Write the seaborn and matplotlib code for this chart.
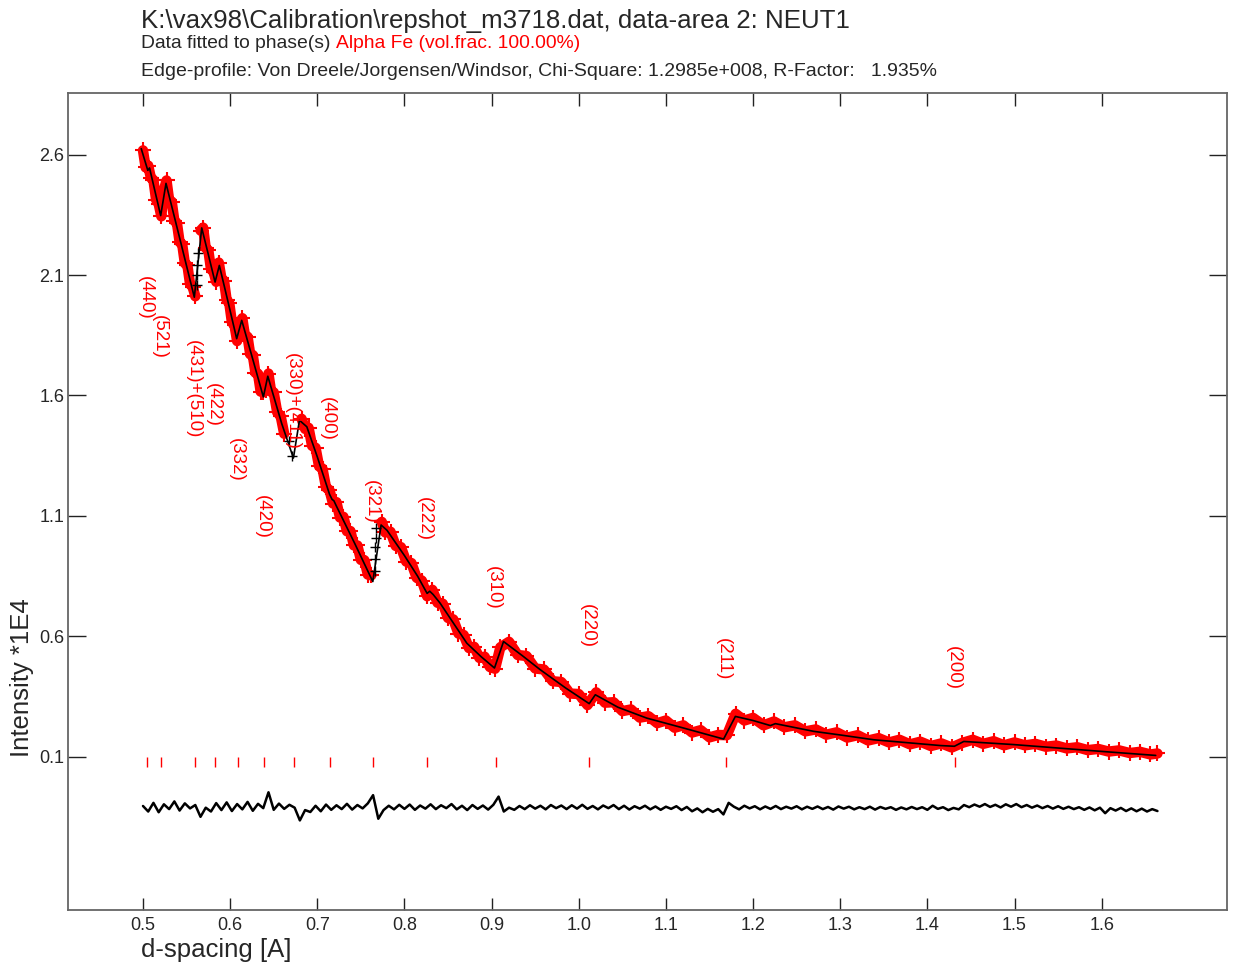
import numpy as np
import matplotlib
matplotlib.use("Agg")
import matplotlib.pyplot as plt
import seaborn as sns

# fitted edge profile (black line)
fit_x = [0.498, 0.5055, 0.5075, 0.5203, 0.5264, 0.542, 0.5589, 0.5674, 0.575, 0.5827,
         0.5876, 0.5975, 0.6075, 0.6133, 0.626, 0.6381, 0.6432, 0.6592, 0.6726, 0.6795,
         0.688, 0.700, 0.714, 0.717, 0.719, 0.722, 0.743, 0.7637, 0.7732, 0.780,
         0.800, 0.815, 0.826, 0.829, 0.833, 0.841, 0.8716, 0.888, 0.9033, 0.9137,
         0.935, 0.9558, 0.985, 1.012, 1.019, 1.045, 1.078, 1.120, 1.1662, 1.1797,
         1.200, 1.2199, 1.2256, 1.2696, 1.300, 1.3385, 1.415, 1.431, 1.4418, 1.4992,
         1.5988, 1.662]
fit_y = [2.625, 2.535, 2.545, 2.347, 2.481, 2.255, 2.008, 2.296, 2.185, 2.071,
         2.140, 1.990, 1.836, 1.912, 1.750, 1.594, 1.680, 1.483, 1.340, 1.497,
         1.470, 1.345, 1.190, 1.168, 1.163, 1.140, 0.985, 0.827, 1.062, 1.040,
         0.935, 0.850, 0.778, 0.787, 0.773, 0.737, 0.571, 0.515, 0.468, 0.578,
         0.520, 0.461, 0.385, 0.320, 0.357, 0.305, 0.260, 0.219, 0.173, 0.267,
         0.250, 0.229, 0.237, 0.205, 0.190, 0.170, 0.146, 0.143, 0.163, 0.150,
         0.122, 0.105]

# observed transmission (red +)
obs_x = [0.500, 0.503, 0.506, 0.509, 0.512, 0.515, 0.518, 0.521, 0.524, 0.527,
         0.530, 0.533, 0.536, 0.539, 0.542, 0.545, 0.548, 0.551, 0.554, 0.557,
         0.560, 0.566, 0.569, 0.572, 0.575, 0.578, 0.581, 0.584, 0.587, 0.590,
         0.593, 0.596, 0.599, 0.602, 0.605, 0.608, 0.611, 0.614, 0.617, 0.620,
         0.623, 0.626, 0.629, 0.632, 0.635, 0.638, 0.641, 0.644, 0.647, 0.650,
         0.654, 0.658, 0.662, 0.682, 0.686, 0.690, 0.694, 0.698, 0.702, 0.706,
         0.710, 0.714, 0.718, 0.722, 0.726, 0.730, 0.734, 0.738, 0.742, 0.746,
         0.750, 0.754, 0.758, 0.762, 0.774, 0.778, 0.784, 0.790, 0.796, 0.802,
         0.808, 0.814, 0.820, 0.826, 0.832, 0.838, 0.844, 0.850, 0.856, 0.862,
         0.868, 0.874, 0.880, 0.886, 0.892, 0.898, 0.904, 0.910, 0.920, 0.930,
         0.940, 0.950, 0.960, 0.970, 0.980, 0.990, 1.000, 1.010, 1.020, 1.030,
         1.040, 1.050, 1.060, 1.070, 1.080, 1.090, 1.100, 1.110, 1.120, 1.130,
         1.140, 1.150, 1.160, 1.170, 1.180, 1.190, 1.200, 1.212, 1.224, 1.236,
         1.248, 1.260, 1.272, 1.284, 1.296, 1.308, 1.320, 1.332, 1.344, 1.356,
         1.368, 1.380, 1.392, 1.404, 1.416, 1.428, 1.440, 1.452, 1.464, 1.476,
         1.488, 1.500, 1.512, 1.524, 1.536, 1.548, 1.560, 1.572, 1.584, 1.596,
         1.608, 1.620, 1.632, 1.644, 1.656, 1.664]
obs_y = [2.618, 2.547, 2.555, 2.504, 2.495, 2.413, 2.396, 2.344, 2.454, 2.493,
         2.411, 2.405, 2.325, 2.315, 2.237, 2.228, 2.149, 2.140, 2.062, 2.051,
         2.012, 2.285, 2.297, 2.212, 2.203, 2.124, 2.114, 2.072, 2.152, 2.086,
         2.076, 1.996, 1.984, 1.904, 1.891, 1.826, 1.902, 1.921, 1.847, 1.844,
         1.771, 1.768, 1.694, 1.690, 1.616, 1.613, 1.624, 1.691, 1.615, 1.613,
         1.530, 1.514, 1.441, 1.503, 1.461, 1.466, 1.391, 1.383, 1.306, 1.296,
         1.218, 1.207, 1.151, 1.157, 1.093, 1.096, 1.036, 1.037, 0.977, 0.977,
         0.917, 0.916, 0.856, 0.853, 1.075, 1.031, 1.034, 0.975, 0.970, 0.910,
         0.904, 0.843, 0.831, 0.766, 0.793, 0.739, 0.735, 0.676, 0.670, 0.611,
         0.605, 0.551, 0.556, 0.510, 0.515, 0.472, 0.465, 0.554, 0.577, 0.522,
         0.518, 0.466, 0.462, 0.413, 0.410, 0.362, 0.360, 0.314, 0.367, 0.324,
         0.326, 0.289, 0.296, 0.262, 0.268, 0.239, 0.250, 0.220, 0.230, 0.200,
         0.210, 0.180, 0.190, 0.189, 0.278, 0.250, 0.261, 0.230, 0.246, 0.222,
         0.230, 0.205, 0.213, 0.191, 0.201, 0.179, 0.189, 0.167, 0.177, 0.159,
         0.170, 0.151, 0.162, 0.144, 0.155, 0.138, 0.157, 0.170, 0.153, 0.164,
         0.147, 0.159, 0.147, 0.153, 0.141, 0.146, 0.134, 0.139, 0.127, 0.132,
         0.121, 0.126, 0.115, 0.120, 0.109, 0.113]

# points on the steep edges drawn as black +
excl_x = [0.5615, 0.5625, 0.5625, 0.563, 0.668, 0.6715, 0.766, 0.766, 0.7665, 0.767, 0.7675]
excl_y = [2.06, 2.10, 2.14, 2.19, 1.41, 1.35, 0.87, 0.92, 0.97, 1.01, 1.05]

# difference curve
resid_x = [0.500, 0.506, 0.512, 0.518, 0.524, 0.530, 0.536, 0.542, 0.548, 0.554,
           0.560, 0.566, 0.572, 0.578, 0.584, 0.590, 0.596, 0.602, 0.608, 0.614,
           0.620, 0.626, 0.632, 0.638, 0.644, 0.650, 0.656, 0.662, 0.668, 0.674,
           0.680, 0.686, 0.692, 0.698, 0.704, 0.710, 0.716, 0.722, 0.728, 0.734,
           0.740, 0.746, 0.752, 0.758, 0.764, 0.770, 0.776, 0.782, 0.788, 0.794,
           0.800, 0.806, 0.812, 0.818, 0.824, 0.830, 0.836, 0.842, 0.848, 0.854,
           0.860, 0.866, 0.872, 0.878, 0.884, 0.890, 0.896, 0.902, 0.908, 0.914,
           0.920, 0.926, 0.932, 0.938, 0.944, 0.950, 0.956, 0.962, 0.968, 0.974,
           0.980, 0.986, 0.992, 0.998, 1.004, 1.010, 1.016, 1.022, 1.028, 1.034,
           1.040, 1.046, 1.052, 1.058, 1.064, 1.070, 1.076, 1.082, 1.088, 1.094,
           1.100, 1.106, 1.112, 1.118, 1.124, 1.130, 1.136, 1.142, 1.148, 1.154,
           1.160, 1.166, 1.172, 1.178, 1.184, 1.190, 1.196, 1.202, 1.208, 1.214,
           1.220, 1.226, 1.232, 1.238, 1.244, 1.250, 1.256, 1.262, 1.268, 1.274,
           1.280, 1.286, 1.292, 1.298, 1.304, 1.310, 1.316, 1.322, 1.328, 1.334,
           1.340, 1.346, 1.352, 1.358, 1.364, 1.370, 1.376, 1.382, 1.388, 1.394,
           1.400, 1.406, 1.412, 1.418, 1.424, 1.430, 1.436, 1.442, 1.448, 1.454,
           1.460, 1.466, 1.472, 1.478, 1.484, 1.490, 1.496, 1.502, 1.508, 1.514,
           1.520, 1.526, 1.532, 1.538, 1.544, 1.550, 1.556, 1.562, 1.568, 1.574,
           1.580, 1.586, 1.592, 1.598, 1.604, 1.610, 1.616, 1.622, 1.628, 1.634,
           1.640, 1.646, 1.652, 1.658, 1.664]
resid_y = [-0.105, -0.128, -0.092, -0.131, -0.098, -0.118, -0.086, -0.124, -0.094, -0.115,
           -0.101, -0.150, -0.112, -0.128, -0.093, -0.122, -0.090, -0.126, -0.097, -0.119,
           -0.088, -0.125, -0.096, -0.114, -0.048, -0.121, -0.095, -0.117, -0.100, -0.112,
           -0.165, -0.122, -0.130, -0.104, -0.127, -0.099, -0.121, -0.102, -0.118, -0.096,
           -0.120, -0.101, -0.115, -0.094, -0.060, -0.158, -0.122, -0.104, -0.119, -0.100,
           -0.117, -0.099, -0.121, -0.103, -0.116, -0.098, -0.118, -0.102, -0.114, -0.097,
           -0.119, -0.104, -0.122, -0.101, -0.117, -0.103, -0.120, -0.100, -0.066, -0.128,
           -0.112, -0.121, -0.105, -0.118, -0.102, -0.116, -0.104, -0.119, -0.101, -0.114,
           -0.103, -0.118, -0.102, -0.116, -0.100, -0.117, -0.105, -0.119, -0.103, -0.114,
           -0.101, -0.118, -0.104, -0.120, -0.106, -0.116, -0.104, -0.119, -0.107, -0.121,
           -0.108, -0.117, -0.106, -0.122, -0.109, -0.127, -0.115, -0.131, -0.117, -0.129,
           -0.118, -0.140, -0.092, -0.108, -0.119, -0.104, -0.115, -0.106, -0.119, -0.107,
           -0.117, -0.105, -0.118, -0.108, -0.116, -0.106, -0.119, -0.108, -0.117, -0.107,
           -0.118, -0.109, -0.120, -0.107, -0.116, -0.108, -0.119, -0.110, -0.118, -0.108,
           -0.120, -0.109, -0.117, -0.110, -0.121, -0.111, -0.119, -0.109, -0.118, -0.110,
           -0.121, -0.104, -0.117, -0.110, -0.122, -0.113, -0.119, -0.101, -0.110, -0.099,
           -0.108, -0.097, -0.109, -0.100, -0.111, -0.098, -0.108, -0.097, -0.110, -0.101,
           -0.112, -0.103, -0.114, -0.105, -0.116, -0.106, -0.117, -0.108, -0.118, -0.110,
           -0.121, -0.111, -0.123, -0.112, -0.135, -0.114, -0.124, -0.113, -0.126, -0.115,
           -0.127, -0.116, -0.128, -0.118, -0.126]

# reflection markers and labels
hkl_d = [0.5042, 0.5207, 0.5597, 0.5830, 0.6088, 0.6386, 0.6733, 0.7147, 0.7637,
         0.8257, 0.9049, 1.0120, 1.1689, 1.4314]
hkl_labels = ["(440)", "(521)", "(431)+(510)", "(422)", "(332)", "(420)", "(330)+(411)",
              "(400)", "(321)", "(222)", "(310)", "(220)", "(211)", "(200)"]
label_x = [0.5023, 0.5184, 0.5574, 0.5803, 0.6068, 0.6366, 0.6711, 0.7113, 0.7618,
           0.8226, 0.9018, 1.0098, 1.1659, 1.4299]
label_y = [2.098, 1.933, 1.829, 1.651, 1.423, 1.186, 1.775, 1.592, 1.248, 1.178,
           0.892, 0.734, 0.593, 0.560]

x_ticks = [0.5, 0.6, 0.7, 0.8, 0.9, 1.0, 1.1, 1.2, 1.3, 1.4, 1.5, 1.6]
y_ticks = [0.1, 0.6, 1.1, 1.6, 2.1, 2.6]

sns.set_style("white")
plt.rcParams['font.family'] = ['Liberation Sans', 'DejaVu Sans']

fig = plt.figure(figsize=(12.34, 9.74), dpi=100)
ax = fig.add_axes([68.3 / 1234, 64 / 974, (1227 - 68.3) / 1234, (910 - 93.3) / 974])

# dense cloud of observations: a red core under the individual crosses,
# broken where the data jump across a large edge or have a gap
ox = np.array(obs_x)
oy = np.array(obs_y)
breaks = np.where((np.diff(oy) > 0.15) | (np.diff(ox) > 0.013))[0] + 1
for sx, sy in zip(np.split(ox, breaks), np.split(oy, breaks)):
    ax.plot(sx, sy, color='#ff0000', linewidth=7.5, solid_joinstyle='round',
            solid_capstyle='round', zorder=1)
ax.plot(obs_x, obs_y, linestyle='none', marker='+', markersize=11.5,
        markeredgewidth=1.5, color='#ff0000', markeredgecolor='#ff0000', zorder=2)
ax.plot(excl_x, excl_y, linestyle='none', marker='+', markersize=7.5,
        markeredgewidth=1.0, color='black', markeredgecolor='black', zorder=3)
sns.lineplot(x=fit_x, y=fit_y, color='black', linewidth=1.2, sort=False,
             estimator=None, ax=ax, zorder=4)
sns.lineplot(x=resid_x, y=resid_y, color='black', linewidth=1.8, sort=False,
             estimator=None, ax=ax, zorder=4)

ax.vlines(hkl_d, 0.058, 0.1, color='#ff0000', linewidth=1.0, zorder=3)
for lx, ly, txt in zip(label_x, label_y, hkl_labels):
    ax.text(lx, ly, txt, rotation=-90, ha='center', va='top', color='#ff0000',
            fontsize=13.5, zorder=5)

ax.set_xlim(0.4143, 1.7438)
ax.set_ylim(-0.537, 2.855)
ax.set_xticks(x_ticks)
ax.set_xticklabels([f"{v:.1f}" for v in x_ticks])
ax.set_yticks(y_ticks)
ax.set_yticklabels([f"{v:.1f}" for v in y_ticks])
ax.tick_params(axis='x', direction='in', length=9, width=1.0, color='#222222',
               labelsize=13, pad=5, top=True, bottom=True)
ax.tick_params(axis='y', direction='in', length=13, width=1.0, color='#222222',
               labelsize=13, pad=3, left=True, right=True)
for sp in ax.spines.values():
    sp.set_color('#666666')
    sp.set_linewidth(1.3)
ax.set_xlabel("")
ax.set_ylabel("")

fig.text(141 / 1234, 1 - 957 / 974, "d-spacing [A]", fontsize=18.5, ha='left', va='baseline')
fig.text(34 / 1234, 1 - 757 / 974, "Intensity *1E4", fontsize=18.5, rotation=90,
         ha='right', va='bottom')

fig.text(141 / 1234, 1 - 27.7 / 974, r"K:\vax98\Calibration\repshot_m3718.dat, data-area 2: NEUT1",
         fontsize=18.6, ha='left', va='baseline')
t2 = fig.text(141 / 1234, 1 - 48.2 / 974, "Data fitted to phase(s) ", fontsize=13.9,
              ha='left', va='baseline')
fig.canvas.draw()
bb = t2.get_window_extent()
fig.text(bb.x1 / fig.bbox.width, 1 - 48.2 / 974, "Alpha Fe (vol.frac. 100.00%)",
         fontsize=13.9, color='#ff0000', ha='left', va='baseline')
fig.text(141 / 1234, 1 - 76.3 / 974,
         "Edge-profile: Von Dreele/Jorgensen/Windsor, Chi-Square: 1.2985e+008, R-Factor:   1.935%",
         fontsize=14.0, ha='left', va='baseline')

fig.savefig("out.png", dpi=100)
